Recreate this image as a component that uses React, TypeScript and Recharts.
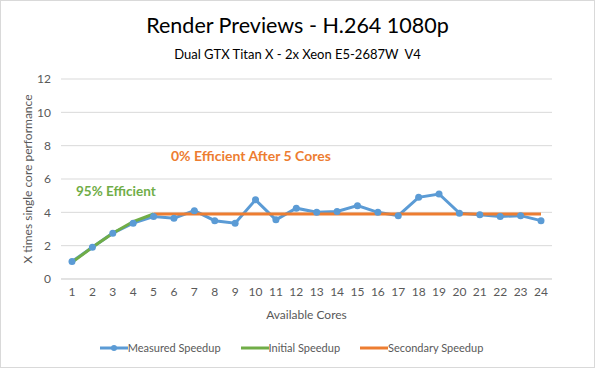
import React from 'react';
import { LineChart, Line, XAxis, YAxis, CartesianGrid, Legend, Label } from 'recharts';

const cores = [1, 2, 3, 4, 5, 6, 7, 8, 9, 10, 11, 12, 13, 14, 15, 16, 17, 18, 19, 20, 21, 22, 23, 24];
const measured = [1.05, 1.9, 2.75, 3.35, 3.75, 3.65, 4.1, 3.5, 3.35, 4.75, 3.55, 4.25, 4.0, 4.05, 4.4, 4.0, 3.8, 4.9, 5.1, 3.95, 3.85, 3.75, 3.8, 3.5];
const initial = [1.0, 1.9, 2.75, 3.45, 3.9];
const secondary = [3.9, 3.9, 3.9, 3.9, 3.9, 3.9, 3.9, 3.9, 3.9, 3.9, 3.9, 3.9, 3.9, 3.9, 3.9, 3.9, 3.9, 3.9, 3.9, 3.9];
const yTicks = [0, 2, 4, 6, 8, 10, 12];
const seriesOrder = ['Measured Speedup', 'Initial Speedup', 'Secondary Speedup'];

const FONT = 'Lato, "Open Sans", sans-serif';
const BLUE = '#5B9BD5';
const GREEN = '#70AD47';
const ORANGE = '#ED7D31';

const data = cores.map((c, i) => ({
  core: c,
  measured: measured[i],
  initial: i < initial.length ? initial[i] : null,
  secondary: i >= 4 ? secondary[i - 4] : null,
}));

function LegendContent({ payload }: any) {
  const items = [...(payload || [])].sort((a: any, b: any) => seriesOrder.indexOf(a.value) - seriesOrder.indexOf(b.value));
  return (
    <div style={{ display: 'flex', justifyContent: 'center', gap: 20, fontFamily: FONT, fontSize: 11, color: '#595959' }}>
      {items.map((p: any) => (
        <div key={p.value} style={{ display: 'flex', alignItems: 'center' }}>
          <svg width={28} height={10}>
            <line x1={0} y1={5} x2={28} y2={5} stroke={p.color} strokeWidth={3} />
            {p.dataKey === 'measured' && <circle cx={14} cy={5} r={3} fill={p.color} />}
          </svg>
          <span>{p.value}</span>
        </div>
      ))}
    </div>
  );
}

export default function App() {
  return (
    <div style={{ position: 'absolute', left: 0, top: 0, width: 595, height: 368, boxSizing: 'border-box', border: '1px solid #d9d9d9', background: '#fff', fontFamily: FONT }}>
      <div style={{ position: 'absolute', top: 11, width: '100%', textAlign: 'center', fontSize: 21.5, color: '#000' }}>
        Render Previews - H.264 1080p
      </div>
      <div style={{ position: 'absolute', top: 45, width: '100%', textAlign: 'center', fontSize: 13, color: '#000' }}>
        Dual GTX Titan X - 2x Xeon E5-2687W&nbsp; V4
      </div>
      <div style={{ position: 'absolute', left: 75, top: 182, fontSize: 13.5, fontWeight: 'bold', color: GREEN }}>95% Efficient</div>
      <div style={{ position: 'absolute', left: 170, top: 146, fontSize: 14, fontWeight: 'bold', color: ORANGE }}>0% Efficient After 5 Cores</div>
      <div style={{ position: 'absolute', left: 0, top: 0 }}>
        <LineChart width={593} height={366} data={data} margin={{ top: 78, right: 42, left: 30, bottom: 31 }}>
          <CartesianGrid vertical={false} stroke="#d9d9d9" />
          <XAxis dataKey="core" padding={{ left: 11, right: 11 }} tickLine={false} axisLine={{ stroke: '#d9d9d9' }} tick={{ fill: '#595959', fontSize: 12, fontFamily: FONT }} interval={0} height={44}>
            <Label value="Available Cores" position="insideBottom" offset={4} style={{ fill: '#595959', fontSize: 12, fontFamily: FONT }} />
          </XAxis>
          <YAxis domain={[0, 12]} ticks={yTicks} width={30} tickLine={false} axisLine={false} tickMargin={4} tick={{ fill: '#595959', fontSize: 12, fontFamily: FONT }}>
            <Label value="X times single core performance" angle={-90} position="insideLeft" offset={-3} style={{ fill: '#595959', fontSize: 12, fontFamily: FONT, textAnchor: 'middle' }} />
          </YAxis>
          <Legend verticalAlign="bottom" content={<LegendContent />} wrapperStyle={{ bottom: 13 }} />
          <Line name="Measured Speedup" dataKey="measured" stroke={BLUE} strokeWidth={3} dot={{ r: 3.5, fill: BLUE, stroke: BLUE, strokeWidth: 0 }} isAnimationActive={false} />
          <Line name="Initial Speedup" dataKey="initial" stroke={GREEN} strokeWidth={3} dot={false} isAnimationActive={false} />
          <Line name="Secondary Speedup" dataKey="secondary" stroke={ORANGE} strokeWidth={3} dot={false} isAnimationActive={false} />
        </LineChart>
      </div>
    </div>
  );
}
